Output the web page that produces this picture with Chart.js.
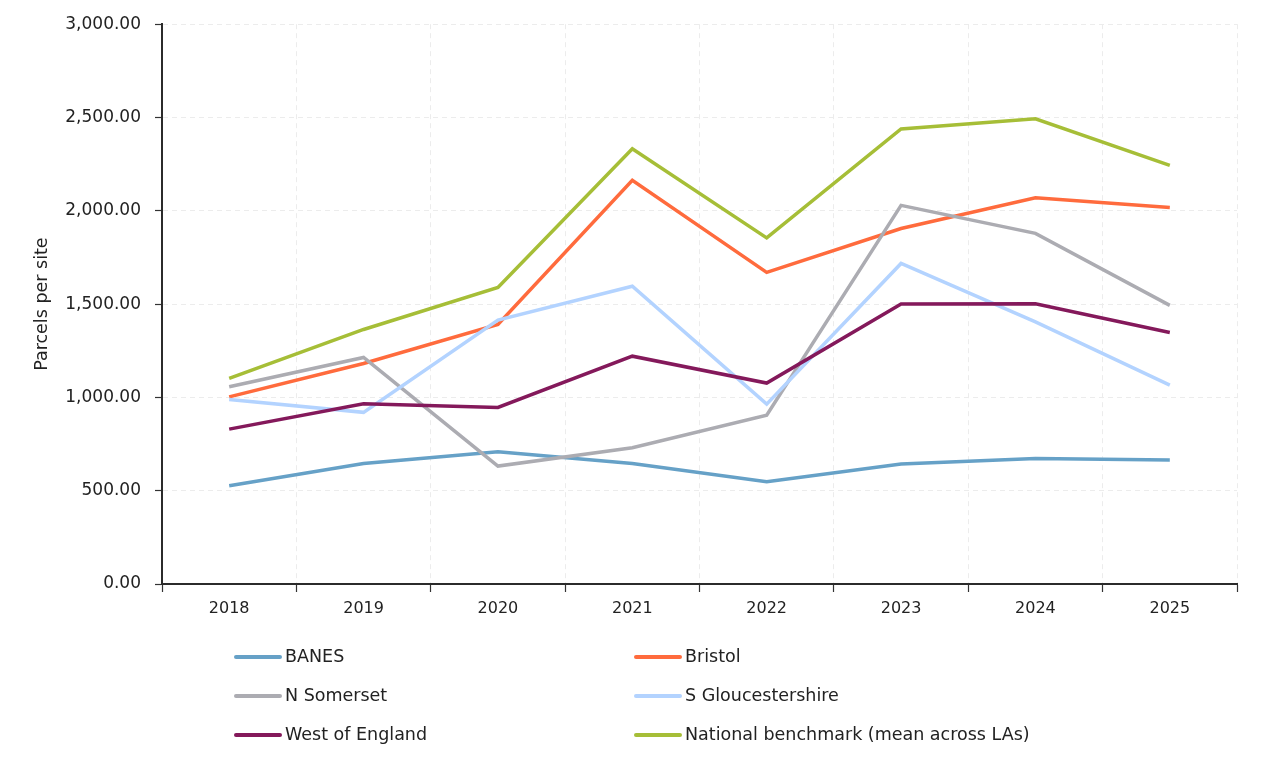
<!DOCTYPE html>
<html>
<head>
<meta charset="utf-8">
<script src="https://cdn.jsdelivr.net/npm/chart.js@4.4.1/dist/chart.umd.min.js"></script>
<style>
html,body{margin:0;padding:0;background:#fff;}
#wrap{width:1261px;height:766px;position:relative;}
</style>
</head>
<body>
<div id="wrap"><canvas id="c" width="1261" height="766"></canvas></div>
<script>
const categories = ['2018','2019','2020','2021','2022','2023','2024','2025'];
const yTicks = [0, 500, 1000, 1500, 2000, 2500, 3000];
const yTitle = 'Parcels per site';

const seriesNames = ['BANES','Bristol','N Somerset','S Gloucestershire','West of England','National benchmark (mean across LAs)'];
const banes      = [527, 646, 709, 646, 548, 643, 673, 664];
const bristol    = [1003, 1182, 1391, 2164, 1670, 1905, 2070, 2018];
const nSomerset  = [1057, 1214, 632, 730, 905, 2029, 1879, 1493];
const sGlos      = [989, 920, 1414, 1596, 964, 1718, 1405, 1066];
const westEng    = [830, 966, 946, 1221, 1077, 1500, 1502, 1348];
const national   = [1102, 1364, 1589, 2332, 1855, 2439, 2493, 2243];
const seriesColors = ['#66a1c7','#ff6b3d','#acacb2','#b3d3ff','#84195b','#a6be37'];

const allSeries = [banes, bristol, nSomerset, sGlos, westEng, national];
const FONT = '"DejaVu Sans"';

const legendPlugin = {
  id: 'gridLegend',
  afterDraw(chart) {
    const ctx = chart.ctx;
    const colX = [236, 636];
    const rowY0 = 657, rowGap = 39;
    ctx.save();
    chart.data.datasets.forEach((ds, i) => {
      const col = i % 2, row = Math.floor(i / 2);
      const x = colX[col], y = rowY0 + row * rowGap;
      ctx.beginPath();
      ctx.strokeStyle = ds.borderColor;
      ctx.lineWidth = 4;
      ctx.lineCap = 'round';
      ctx.moveTo(x, y);
      ctx.lineTo(x + 44, y);
      ctx.stroke();
      ctx.fillStyle = '#222';
      ctx.font = '17.5px ' + FONT;
      ctx.textBaseline = 'middle';
      ctx.textAlign = 'left';
      ctx.fillText(ds.label, x + 49, y);
    });
    ctx.restore();
  }
};

new Chart(document.getElementById('c'), {
  type: 'line',
  data: {
    labels: categories,
    datasets: allSeries.map((d, i) => ({
      label: seriesNames[i],
      data: d,
      borderColor: seriesColors[i],
      backgroundColor: seriesColors[i],
      borderWidth: 3.5,
      pointRadius: 0,
      pointHoverRadius: 0,
      tension: 0,
      fill: false,
      order: 10 - i
    }))
  },
  options: {
    responsive: false,
    animation: false,
    devicePixelRatio: 1,
    layout: { padding: { left: 0, right: 24, top: 24, bottom: 0 } },
    plugins: {
      legend: { display: false },
      tooltip: { enabled: false }
    },
    scales: {
      x: {
        type: 'category',
        offset: true,
        afterFit(scale) { scale.height = 182; },
        grid: {
          offset: true,
          color: '#ececec',
          lineWidth: 1,
          tickColor: '#333',
          tickLength: 8,
          tickWidth: 1.2
        },
        border: { display: true, color: '#2b2b2b', width: 2, dash: [5, 4] },
        ticks: {
          color: '#222',
          font: { family: FONT, size: 16 },
          padding: 7,
          maxRotation: 0
        }
      },
      y: {
        min: 0,
        max: 3000,
        afterFit(scale) { scale.width = 162; },
        afterBuildTicks(scale) { scale.ticks = yTicks.map(v => ({ value: v })); },
        grid: {
          color: '#ececec',
          lineWidth: 1,
          tickColor: '#333',
          tickLength: 7,
          tickWidth: 1.2
        },
        border: { display: true, color: '#2b2b2b', width: 2, dash: [5, 4] },
        ticks: {
          color: '#222',
          font: { family: FONT, size: 17 },
          padding: 14,
          callback: (v) => Number(v).toLocaleString('en-US', { minimumFractionDigits: 2, maximumFractionDigits: 2 })
        },
        title: {
          display: true,
          text: yTitle,
          color: '#222',
          font: { family: FONT, size: 17.5 },
          padding: { top: 32, bottom: 0 }
        }
      }
    }
  },
  plugins: [legendPlugin]
});
</script>
</body>
</html>
